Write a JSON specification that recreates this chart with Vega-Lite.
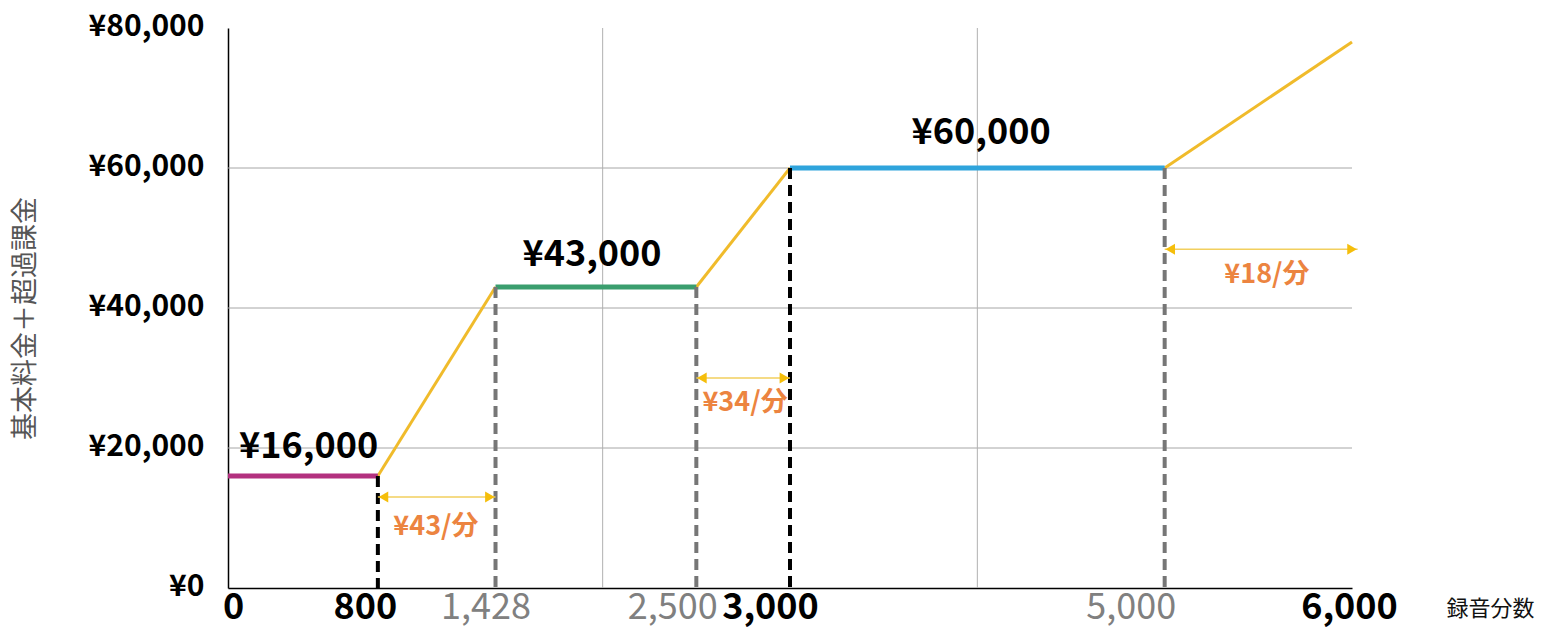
{
  "$schema": "https://vega.github.io/schema/vega-lite/v6.json",
  "width": 1124,
  "height": 560,
  "autosize": {"type": "none"},
  "padding": {"left": 228, "top": 28, "right": 192, "bottom": 46},
  "background": "white",
  "config": {"view": {"stroke": null}},
  "datasets": {
    "hgrid": [{"v": 20000}, {"v": 40000}, {"v": 60000}],
    "vgrid": [{"m": 2000}, {"m": 4000}],
    "dashes": [
      {"m": 800, "base": 0, "top": 16000, "kind": "main"},
      {"m": 1428, "base": 0, "top": 43000, "kind": "sub"},
      {"m": 2500, "base": 0, "top": 43000, "kind": "sub"},
      {"m": 3000, "base": 0, "top": 60000, "kind": "main"},
      {"m": 5000, "base": 0, "top": 60000, "kind": "sub"}
    ],
    "flat": [
      {"plan": "16000", "m": 0, "m2": 800, "yen": 16000, "yen2": 16000},
      {"plan": "43000", "m": 1428, "m2": 2500, "yen": 43000, "yen2": 43000},
      {"plan": "60000", "m": 3000, "m2": 5000, "yen": 60000, "yen2": 60000}
    ],
    "slope": [
      {"m": 800, "m2": 1428, "yen": 16000, "yen2": 43000},
      {"m": 2500, "m2": 3000, "yen": 43000, "yen2": 60000},
      {"m": 5000, "m2": 6000, "yen": 60000, "yen2": 78000}
    ],
    "arrows": [
      {"m": 800, "m2": 1428, "yen": 13000, "hl": 830, "hr": 1398},
      {"m": 2500, "m2": 3000, "yen": 30000, "hl": 2530, "hr": 2970},
      {"m": 5000, "m2": 6030, "yen": 48400, "hl": 5030, "hr": 6000}
    ],
    "prices": [
      {"label": "¥16,000", "m": 430, "yen": 20100},
      {"label": "¥43,000", "m": 1943, "yen": 47600},
      {"label": "¥60,000", "m": 4020, "yen": 65000}
    ],
    "rates": [
      {"label": "¥43/分", "m": 1110, "yen": 8700},
      {"label": "¥34/分", "m": 2760, "yen": 26400},
      {"label": "¥18/分", "m": 5546, "yen": 44700}
    ]
  },
  "encoding": {
    "x": {
      "field": "m",
      "type": "quantitative",
      "scale": {"domain": [0, 6000], "nice": false, "zero": false},
      "axis": {
        "title": "録音分数",
        "titleFont": "Noto Sans CJK JP",
        "titleFontSize": 22,
        "titleFontWeight": "normal",
        "titleColor": "#111111",
        "titleX": 1262,
        "titleY": 20,
        "titleAlign": "center",
        "titleBaseline": "middle",
        "titleAngle": 0,
        "values": [0, 800, 1428, 2500, 3000, 5000, 6000],
        "format": ",.0f",
        "labelFont": "Noto Sans CJK JP",
        "labelFontSize": 36,
        "labelColor": {"condition": {"test": "datum.value == 1428 || datum.value == 2500 || datum.value == 5000", "value": "#808080"}, "value": "#000000"},
        "labelFontWeight": {"condition": {"test": "datum.value == 1428 || datum.value == 2500 || datum.value == 5000", "value": "normal"}, "value": "bold"},
        "labelOffset": {
          "condition": [
            {"test": "datum.value == 0", "value": 5},
            {"test": "datum.value == 800", "value": -13},
            {"test": "datum.value == 1428", "value": -10},
            {"test": "datum.value == 2500", "value": -24},
            {"test": "datum.value == 3000", "value": -20},
            {"test": "datum.value == 5000", "value": -34}
          ],
          "value": -3
        },
        "labelPadding": 2,
        "labelOverlap": false,
        "labelFlush": false,
        "ticks": false,
        "grid": false,
        "domainColor": "#000000",
        "domainWidth": 1.5
      }
    },
    "y": {
      "field": "yen",
      "type": "quantitative",
      "scale": {"domain": [0, 80000], "nice": false},
      "axis": {
        "title": "基本料金＋超過課金",
        "titleFont": "Noto Sans CJK JP",
        "titleFontSize": 27,
        "titleFontWeight": "normal",
        "titleColor": "#555555",
        "titleX": -203,
        "titleY": 290,
        "titleAngle": -90,
        "titleAlign": "center",
        "titleBaseline": "middle",
        "values": [0, 20000, 40000, 60000, 80000],
        "labelExpr": "'¥' + format(datum.value, ',')",
        "labelFont": "Noto Sans CJK JP",
        "labelFontWeight": "bold",
        "labelFontSize": 30,
        "labelColor": "#000000",
        "labelPadding": 24,
        "labelBaseline": "middle",
        "labelOffset": -2,
        "ticks": false,
        "grid": false,
        "domainColor": "#000000",
        "domainWidth": 1.5
      }
    }
  },
  "layer": [
    {
      "data": {"name": "hgrid"},
      "mark": {"type": "rule", "color": "#a6a6a6", "strokeWidth": 1},
      "encoding": {"y": {"field": "v", "type": "quantitative"}, "x": null}
    },
    {
      "data": {"name": "vgrid"},
      "mark": {"type": "rule", "color": "#b0b0b0", "strokeWidth": 1},
      "encoding": {"x": {"field": "m", "type": "quantitative"}, "y": null}
    },
    {
      "data": {"name": "slope"},
      "mark": {"type": "rule", "color": "#f0bb2b", "strokeWidth": 3},
      "encoding": {"x2": {"field": "m2"}, "y2": {"field": "yen2"}}
    },
    {
      "data": {"name": "flat"},
      "mark": {"type": "rule", "strokeWidth": 5},
      "encoding": {
        "x2": {"field": "m2"},
        "y2": {"field": "yen2"},
        "color": {"field": "plan", "type": "nominal", "scale": {"domain": ["16000", "43000", "60000"], "range": ["#b3317f", "#3a9e6e", "#2fa4dc"]}, "legend": null}
      }
    },
    {
      "data": {"name": "dashes"},
      "transform": [{"filter": "datum.kind == 'sub'"}],
      "mark": {"type": "rule", "color": "#767676", "strokeWidth": 4, "strokeDash": [11, 6]},
      "encoding": {"y": {"field": "top", "type": "quantitative"}, "y2": {"field": "base"}}
    },
    {
      "data": {"name": "dashes"},
      "transform": [{"filter": "datum.kind == 'main'"}],
      "mark": {"type": "rule", "color": "#000000", "strokeWidth": 4, "strokeDash": [11, 6]},
      "encoding": {"y": {"field": "top", "type": "quantitative"}, "y2": {"field": "base"}}
    },
    {
      "data": {"name": "arrows"},
      "mark": {"type": "rule", "color": "#f2cf5e", "strokeWidth": 1.5},
      "encoding": {"x2": {"field": "m2"}}
    },
    {
      "data": {"name": "arrows"},
      "mark": {"type": "point", "shape": "triangle-left", "filled": true, "color": "#f5be0b", "size": 120, "opacity": 1},
      "encoding": {"x": {"field": "hl", "type": "quantitative"}}
    },
    {
      "data": {"name": "arrows"},
      "mark": {"type": "point", "shape": "triangle-right", "filled": true, "color": "#f5be0b", "size": 120, "opacity": 1},
      "encoding": {"x": {"field": "hr", "type": "quantitative"}}
    },
    {
      "data": {"name": "prices"},
      "mark": {"type": "text", "font": "Noto Sans CJK JP", "fontWeight": "bold", "fontSize": 36, "color": "#000000", "align": "center", "baseline": "middle"},
      "encoding": {"text": {"field": "label"}}
    },
    {
      "data": {"name": "rates"},
      "mark": {"type": "text", "font": "Noto Sans CJK JP", "fontWeight": "bold", "fontSize": 27, "color": "#ec8440", "align": "center", "baseline": "middle"},
      "encoding": {"text": {"field": "label"}}
    }
  ]
}
